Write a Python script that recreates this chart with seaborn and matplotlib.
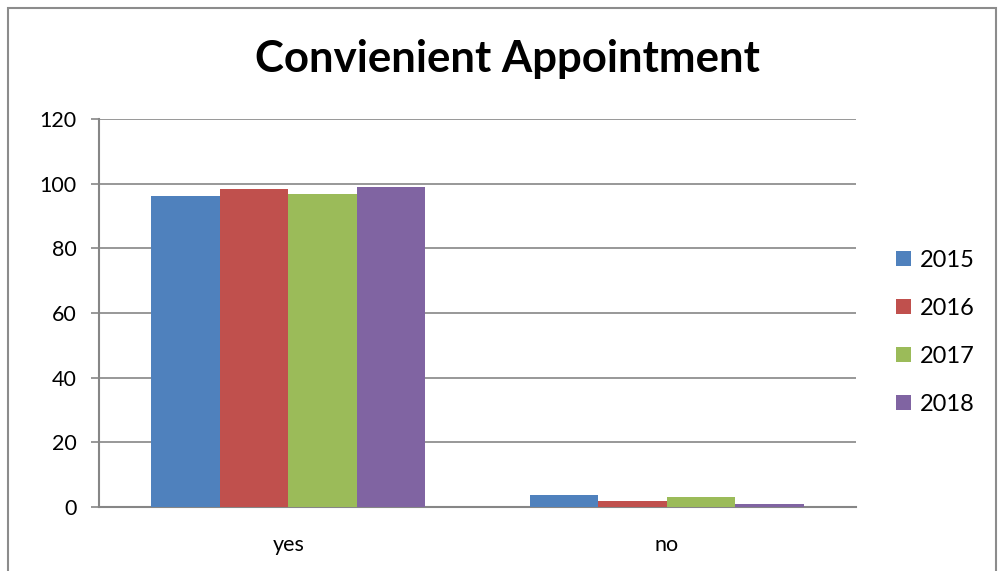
import matplotlib
matplotlib.use("Agg")
import matplotlib.pyplot as plt
from matplotlib.patches import Rectangle
import seaborn as sns
import pandas as pd

categories = ["yes", "no"]
years = ["2015", "2016", "2017", "2018"]
values_2015 = [96.2, 3.8]
values_2016 = [98.3, 1.7]
values_2017 = [96.8, 3.2]
values_2018 = [99.0, 1.0]
y_ticks = [0, 20, 40, 60, 80, 100, 120]
colors = ["#4F81BD", "#C0504D", "#9BBB59", "#8064A2"]

series = [values_2015, values_2016, values_2017, values_2018]
df = pd.DataFrame(
    [(c, y, v[i]) for y, v in zip(years, series) for i, c in enumerate(categories)],
    columns=["answer", "year", "percent"],
)

sns.set_style("white")
plt.rcParams["font.family"] = ["Lato", "DejaVu Sans"]
plt.rcParams["text.color"] = "black"
plt.rcParams["xtick.labelcolor"] = "black"
plt.rcParams["ytick.labelcolor"] = "black"

fig = plt.figure(figsize=(10.04, 5.71), dpi=100)
ax = fig.add_axes([0.0986, 0.1121, 0.754, 0.6795])

sns.barplot(data=df, x="answer", y="percent", hue="year", order=categories,
            hue_order=years, palette=colors, width=0.725, saturation=1,
            errorbar=None, ax=ax, zorder=3, edgecolor="none")

ax.set_ylim(0, 120)
ax.set_xlim(-0.5, 1.5)
ax.set_yticks(y_ticks)
ax.set_yticklabels([str(t) for t in y_ticks], fontsize=15.5)
ax.set_xticks(range(len(categories)))
ax.set_xticklabels(categories, fontsize=15.5)
ax.set_xticks([-0.5, 0.5, 1.5], minor=True)
ax.tick_params(axis="x", which="major", length=0, pad=20)
ax.tick_params(axis="x", which="minor", length=7, width=1.2, color="#868686", direction="out")
ax.tick_params(axis="y", length=6, width=1.2, color="#868686", direction="out", pad=10, left=True)
ax.set_xlabel("")
ax.set_ylabel("")
ax.yaxis.grid(True, color="#868686", linewidth=1.2, zorder=0)
ax.set_axisbelow(True)

for side in ["top", "right"]:
    ax.spines[side].set_visible(False)
for side in ["left", "bottom"]:
    ax.spines[side].set_color("#868686")
    ax.spines[side].set_linewidth(1.5)

ax.legend(loc="center left", bbox_to_anchor=(1.025, 0.45), frameon=False,
          fontsize=17, handlelength=0.62, handleheight=0.62, handletextpad=0.4,
          labelspacing=1.15)

fig.text(0.505, 0.897, "Convienient Appointment", ha="center", va="center",
         fontsize=31.5, fontweight="bold", color="black")

fig.add_artist(Rectangle((0.008, -0.01), 0.984, 0.996, transform=fig.transFigure,
                         fill=False, edgecolor="#8c8c8c", linewidth=1.5))

fig.savefig("out.png", dpi=100)
